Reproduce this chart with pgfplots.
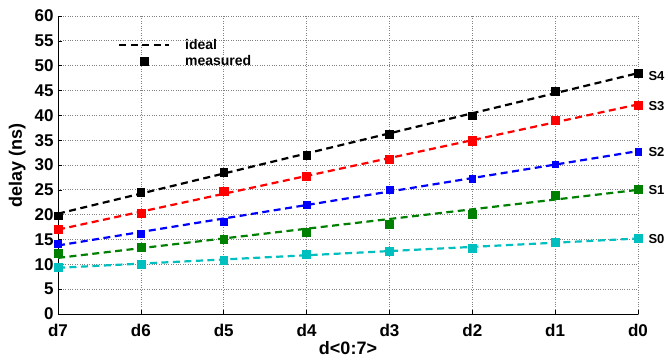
\documentclass[border=0pt]{standalone}
\usepackage{pgfplots}
\pgfplotsset{compat=1.18}
\usepackage{fontspec}
\setmainfont{Liberation Sans}
\definecolor{mgreen}{RGB}{0,128,0}
\definecolor{mcyan}{RGB}{0,191,191}
\tikzset{idl/.style={line width=2.2pt, dash pattern=on 7pt off 4.5pt}}
\begin{document}
\begin{tikzpicture}
\begin{axis}[
  at={(0,0)}, anchor=south west,
  scale only axis, width=580pt, height=298pt,
  xmin=0, xmax=7, ymin=0, ymax=60,
  xtick={0,...,7}, xticklabels={d7,d6,d5,d4,d3,d2,d1,d0},
  ytick={0,5,...,60},
  axis lines*=left,
  axis line style={line width=0.9pt},
  tick style={black, line width=0.6pt},
  major tick length=4pt,
  tick align=inside,
  grid=major,
  grid style={dotted, gray, line width=0.7pt},
  /pgf/number format/assume math mode=true,
  tick label style={font=\fontsize{17}{19}\selectfont\bfseries},
  xticklabel style={yshift=-7pt},
  yticklabel style={xshift=-1pt},
  label style={font=\fontsize{18}{20}\selectfont\bfseries},
  xlabel={d<0:7>},
  ylabel={delay (ns)},
  xlabel style={yshift=2pt},
  ylabel style={yshift=2pt},
  clip=false,
  legend style={draw=none, fill=none, at={(0.103,0.925)}, anchor=north west,
    font=\fontsize{14}{15}\selectfont\bfseries, row sep=4pt, inner sep=0pt,
    nodes={inner sep=1pt, text depth=0pt}},
  legend cell align=left,
  legend image code/.code={\draw[mark repeat=2,mark phase=2,#1] plot coordinates {(0pt,0pt) (25pt,0pt) (50pt,0pt)};},
]
% legend entries
\addplot[black, idl] coordinates {(-10,-10) (-9,-10)};
\addlegendentry{\hspace{14pt}ideal}
\addplot[black, only marks, mark=square*, mark size=4pt] coordinates {(-10,-10)};
\addlegendentry{\hspace{14pt}measured}

% ideal lines
\addplot[black, idl, forget plot] coordinates {(0,20.2) (7,48.5)};
\addplot[red, idl, forget plot] coordinates {(0,17.0) (7,42.2)};
\addplot[blue, idl, forget plot] coordinates {(0,13.8) (7,32.8)};
\addplot[mgreen, idl, forget plot] coordinates {(0,11.3) (7,25.0)};
\addplot[mcyan, idl, forget plot] coordinates {(0,9.3) (7,15.2)};

% measured
\addplot[black, only marks, mark=square*, mark size=3.8pt, forget plot] coordinates {
 (0,19.8) (1,24.5) (2,28.5) (3,32.0) (4,36.2) (5,39.9) (6,44.8) (7,48.5)};
\addplot[red, only marks, mark=square*, mark size=4.1pt, forget plot] coordinates {
 (0,17.0) (1,20.3) (2,24.7) (3,27.8) (4,31.2) (5,34.9) (6,39.1) (7,42.1)};
\addplot[blue, only marks, mark=square*, mark size=3.3pt, forget plot] coordinates {
 (0,14.1) (1,16.2) (2,18.6) (3,22.0) (4,25.0) (5,27.2) (6,30.2) (7,32.7)};
\addplot[mgreen, only marks, mark=square*, mark size=3.9pt, forget plot] coordinates {
 (0,12.3) (1,13.4) (2,15.1) (3,16.4) (4,18.1) (5,20.1) (6,23.9) (7,25.2)};
\addplot[mcyan, only marks, mark=square*, mark size=3.9pt, forget plot] coordinates {
 (0,9.4) (1,10.1) (2,10.9) (3,12.0) (4,12.6) (5,13.3) (6,14.4) (7,15.3)};

\node[anchor=west, font=\fontsize{13}{14}\selectfont\bfseries] at (axis cs:7,48.0) [xshift=7pt] {S4};
\node[anchor=west, font=\fontsize{13}{14}\selectfont\bfseries] at (axis cs:7,41.9) [xshift=7pt] {S3};
\node[anchor=west, font=\fontsize{13}{14}\selectfont\bfseries] at (axis cs:7,32.6) [xshift=7pt] {S2};
\node[anchor=west, font=\fontsize{13}{14}\selectfont\bfseries] at (axis cs:7,25.0) [xshift=7pt] {S1};
\node[anchor=west, font=\fontsize{13}{14}\selectfont\bfseries] at (axis cs:7,15.1) [xshift=7pt] {S0};
\end{axis}
\pgfresetboundingbox
\path[use as bounding box] (-58pt,-46pt) rectangle (610pt,314pt);
\end{tikzpicture}
\end{document}
